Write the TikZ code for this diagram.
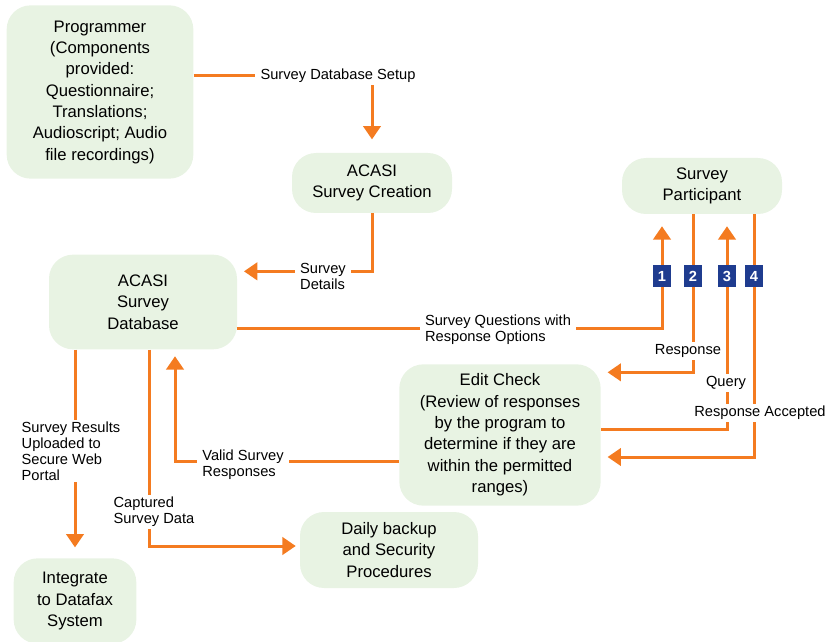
\documentclass[tikz,border=0pt]{standalone}
\usepackage{fontspec}
\setmainfont{Liberation Sans}
\usepackage{tikz}
\usetikzlibrary{arrows.meta,backgrounds}

\definecolor{boxgreen}{HTML}{E8F3E3}
\definecolor{floworange}{HTML}{F47B20}
\definecolor{badgeblue}{HTML}{1F3C8F}

\begin{document}
\begin{tikzpicture}[x=0.75pt,y=-0.75pt,>={Triangle[width=13pt,length=10pt]},
  box/.style={fill=boxgreen,rounded corners=18pt,align=center,inner sep=0pt,
    font=\fontsize{12.5}{16}\selectfont},
  lbl/.style={fill=white,align=left,inner xsep=4pt,inner ysep=1.5pt,font=\fontsize{11}{12}\selectfont},
  badge/.style={fill=badgeblue,text=white,font=\bfseries\fontsize{11}{12}\selectfont,
    minimum width=13pt,minimum height=17pt,inner sep=0pt},
  flow/.style={draw=floworange,line width=2.25pt,->,shorten >=5pt}]
\useasboundingbox (0,0) rectangle (826,642);

% boxes
\node[box,minimum width=140pt,minimum height=130pt] (prog) at (100,92)
  {Programmer\\(Components\\provided:\\Questionnaire;\\Translations;\\Audioscript; Audio\\file recordings)};
\node[box,minimum width=120pt,minimum height=45pt] (create) at (372,183) {ACASI\\Survey Creation};
\node[box,minimum width=120pt,minimum height=42pt] (part) at (702,186) {Survey\\Participant};
\node[box,minimum width=141pt,minimum height=71pt] (db) at (143,302) {ACASI\\Survey\\Database};
\node[box,minimum width=151pt,minimum height=106pt] (edit) at (500,435)
  {Edit Check\\(Review of responses\\by the program to\\determine if they are\\within the permitted\\ranges)};
\node[box,minimum width=133.5pt,minimum height=57pt] (daily) at (389,550) {Daily backup\\and Security\\Procedures};
\node[box,minimum width=92pt,minimum height=64pt] (integ) at (75,601) {Integrate\\to Datafax\\System};

% labels
\node[lbl] (setup) at (338,76) {Survey Database Setup};
\node[lbl] (details) at (323,276) {Survey\\Details};
\node[lbl] (questions) at (498,330) {Survey Questions with\\Response Options};
\node[lbl,inner xsep=1.5pt] (response) at (688,351) {Response};
\node[lbl] (query) at (726,383) {Query};
\node[lbl] (accepted) at (760,413) {Response Accepted};
\node[lbl] (valid) at (243,465) {Valid Survey\\Responses};
\node[lbl] (results) at (71,451) {Survey Results\\Uploaded to\\Secure Web\\Portal};
\node[lbl] (captured) at (154,512) {Captured\\Survey Data};

\node[badge] (b1) at (662,276) {1};
\node[badge] (b2) at (693,276) {2};
\node[badge] (b3) at (727,276) {3};
\node[badge] (b4) at (754,276) {4};

% connectors
\begin{scope}[on background layer]
\draw[flow,shorten >=10pt] (prog.east |- setup) -| (create.north);
\draw[flow] (create.south) |- ([yshift=23pt]db.east);
\draw[flow,shorten >=9pt] ([yshift=-20pt]db.east) -| (b1 |- part.south);
\draw[flow] (b2 |- part.south) |- ([yshift=47pt]edit.east);
\draw[flow,shorten >=9pt] ([yshift=4.5pt]edit.east) -| (b3 |- part.south);
\draw[flow] (b4 |- part.south) |- ([yshift=-16.5pt]edit.east);
\draw[flow] ([yshift=-19.5pt]edit.west) -| ([xshift=24pt]db.south);
\draw[flow,shorten >=8pt] (integ.north |- db.south) -- (integ.north);
\draw[flow,shorten >=3pt] ([xshift=4.5pt]db.south) |- ([yshift=3pt]daily.west);
\end{scope}
\end{tikzpicture}
\end{document}
